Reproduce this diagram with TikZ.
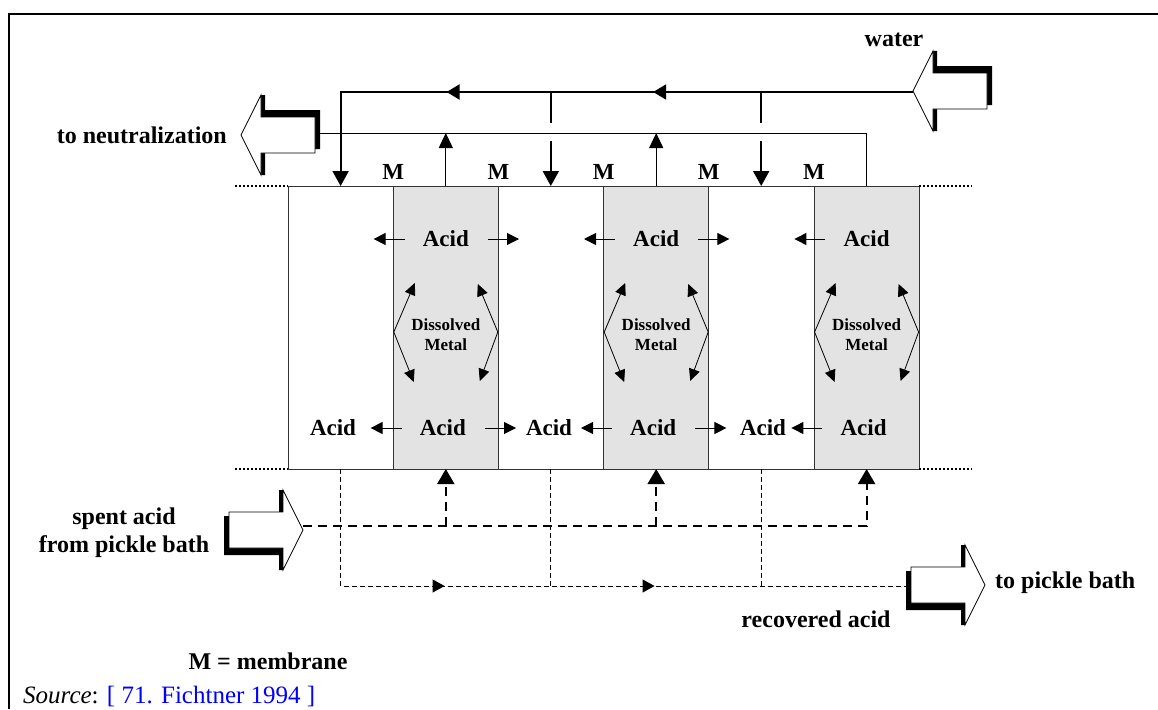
\documentclass[tikz,border=0pt]{standalone}
\usepackage{fontspec}
\setmainfont{Liberation Serif}
\usetikzlibrary{arrows.meta,calc,decorations.markings}

\tikzset{
  lbl/.style={font=\bfseries\fontsize{24}{28}\selectfont, inner sep=0pt, align=center},
  acid/.style={font=\bfseries\fontsize{23}{26}\selectfont, inner sep=0pt},
  metal/.style={font=\bfseries\fontsize{17}{20}\selectfont, inner sep=0pt, align=center},
  box/.style={draw=black!80, line width=1pt},
  membrane/.style={box, fill=black!11},
  edge/.style={draw, line width=2pt, dash pattern=on 2pt off 2pt},
  waterin/.style={line width=2pt, -{Triangle[length=15pt,width=16pt]}},
  drain/.style={line width=1pt, -{Triangle[length=15pt,width=14pt]}},
  feed/.style={line width=2pt, dash pattern=on 9pt off 6pt},
  feedin/.style={feed, -{Triangle[length=15pt,width=17pt]}},
  recov/.style={line width=1pt, dash pattern=on 5pt off 3pt},
  diff/.style={line width=1pt, -{Triangle[length=12pt,width=12pt]}},
  metalarr/.style={line width=0.8pt, {Triangle[length=12pt,width=11pt]}-{Triangle[length=12pt,width=11pt]}},
  midarrows/.style n args={3}{postaction={decorate}, decoration={markings,
    mark=at position #1 with {\arrow{#3}}, mark=at position #2 with {\arrow{#3}}}},
}
% block arrow with shadow: tip x, tip y, angle
\newcommand{\blockarrow}[3]{%
  \begin{scope}[shift={(#1,#2)}, rotate=#3]
    \fill[black] (20,-40) -- (24,-40) -- (24,-25) -- (79,-25) -- (79,14) -- (24,14) -- (24,40) -- (20,40) -- cycle;
    \filldraw[fill=white, draw=black, line width=0.8pt] (0,0) -- (20,-40) -- (20,-18) -- (74,-18) -- (74,18) -- (20,18) -- (20,40) -- cycle;
  \end{scope}}

\begin{document}
\begin{tikzpicture}[x=1pt,y=-1pt]
\useasboundingbox (0,0) rectangle (1158,709);
% frame
\draw[line width=2pt] (9,709) -- (9,14) -- (1158,14);
% cells
\foreach \x in {288,498.4,708.8} \draw[box] (\x,186) rectangle ++(105.2,283);
\foreach \x in {393.2,603.6,814} \draw[membrane] (\x,186) rectangle ++(105.2,283);
\draw[edge] (235,186) -- (288,186);
\draw[edge] (235,469) -- (288,469);
\draw[edge] (919.2,186) -- (972,186);
\draw[edge] (919.2,469) -- (972,469);
\foreach \x [count=\k] in {393.2,498.4,603.6,708.8,814} \node[acid] (m\k) at (\x,172) {M};
% ports
\foreach \c [count=\k] in {340.6,550.8,761.2} {
  \coordinate (in\k) at (\c,186);
  \coordinate (rb\k) at (\c,469);
}
\foreach \c [count=\k] in {445.8,656.2,866.6} {
  \coordinate (out\k) at (\c,186);
  \coordinate (fb\k) at (\c,469);
}
\coordinate (wtip) at (913,92);
\coordinate (ntail) at (315,133);
\coordinate (stip) at (303,526);
\coordinate (rtail) at (912,586);
% water in
\draw[waterin, midarrows={0.39}{0.70}{Triangle[length=13pt,width=15pt]}] (wtip) -- (in1 |- wtip) -- (in1);
\foreach \k in {2,3} {
  \draw[line width=2pt] (in\k |- wtip) -- ++(0,31);
  \draw[waterin] ($(in\k)+(0,-45)$) -- (in\k);
}
% to neutralization
\draw[line width=1pt] (ntail) -- (out3 |- ntail) -- (out3);
\draw[drain] (out1) -- (out1 |- ntail);
\draw[drain] (out2) -- (out2 |- ntail);
% spent acid feed
\draw[feedin] (stip) -- (fb3 |- stip) -- (fb3);
\draw[feedin] (fb1 |- stip) -- (fb1);
\draw[feedin] (fb2 |- stip) -- (fb2);
% recovered acid
\draw[recov, midarrows={0.321}{0.626}{Triangle[length=12pt,width=13pt]}] (rb1) -- (rb1 |- rtail) -- (rtail);
\draw[recov] (rb2) -- (rb2 |- rtail);
\draw[recov] (rb3) -- (rb3 |- rtail);
% membranes
\foreach \c [count=\k] in {445.8,656.2,866.6} {
  \node[acid] (at\k) at (\c,239) {Acid};
  \node[acid] (ab\k) at (\c-3,428) {Acid};
  \node[metal] (dm\k) at (\c,335) {Dissolved\\Metal};
  \draw[diff] ([xshift=-18pt]at\k.west) -- ++(-31,0);
  \draw[diff] ([xshift=-18pt]ab\k.west) -- ++(-31,0);
  \draw[metalarr] (\c-31,283) -- (\c-52,332) -- (\c-32,382);
  \draw[metalarr] (\c+32,284) -- (\c+52,332) -- (\c+34,381);
}
\foreach \k in {1,2} {
  \draw[diff] ([xshift=19pt]at\k.east) -- ++(31,0);
  \draw[diff] ([xshift=19pt]ab\k.east) -- ++(31,0);
}
\foreach \c [count=\k] in {333,549,763} \node[acid] (aw\k) at (\c,428) {Acid};
% block arrows
\blockarrow{913}{91}{0}
\blockarrow{241}{135}{0}
\blockarrow{303}{530}{180}
\blockarrow{985}{585}{180}
% labels
\node[lbl] (water) at (894,40) {water};
\node[lbl, anchor=east] (neut) at (227,135) {to neutralization};
\node[lbl] (spent) at (124,533) {spent acid\\from pickle bath};
\node[lbl, anchor=west] (pickle) at (995,583) {to pickle bath};
\node[lbl] (recacid) at (816,619) {recovered acid};
\node[lbl] (mkey) at (268,661) {M = membrane};
\node[anchor=base west, inner sep=0pt, font=\fontsize{25}{27}\selectfont] (src) at (23,703) {\textit{Source}: \textcolor{blue}{[ 71. Fichtner 1994 ]}};
\end{tikzpicture}
\end{document}
